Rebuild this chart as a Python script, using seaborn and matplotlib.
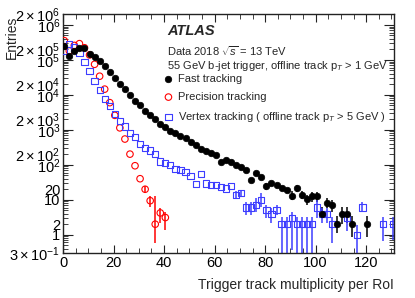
import numpy as np
import pandas as pd
import seaborn as sns
import matplotlib.pyplot as plt
from matplotlib.ticker import FixedLocator, FuncFormatter, MultipleLocator

# histogram bin centres (width 2)
bins = np.arange(0.5, 131, 2)
nan = np.nan

fast = [2.56e5, 1.32e5, 1.85e5, 2.15e5, 2.15e5, 1.45e5, 1.24e5, 9.6e4, 6.5e4, 4.5e4,
        3.0e4, 2.1e4, 1.45e4, 9.8e3, 6.9e3, 5.0e3, 3.5e3, 2.7e3, 2.06e3, 1.5e3,
        1.2e3, 955, 805, 687, 579, 463, 373, 285, 245, 220,
        193, 122, 139, 124, 100, 86, 69, 36, 60, 44,
        24, 30, 27, 21, 19, 13, 21, 14, 10.5, 12.4,
        12.4, 4, 8, 7, 2, 4, 4, 2, nan, nan,
        2, nan, nan, nan, nan, nan]

precision = [3.56e5, 1.81e5, 2.6e5, 2.92e5, 2.23e5, 1.39e5, 7.5e4, 3.42e4, 1.46e4, 6.0e3,
             2.6e3, 1.14e3, 546, 202, 94, 40, 20, 9.4, 2, 4.2,
             3.1] + [nan] * 45

vertex = [1.84e5, 2.92e5, 2.28e5, 1.62e5, 8.9e4, 4.9e4, 2.56e4, 1.39e4, 7.5e3, 4.75e3,
          2.87e3, 1.83e3, 1.24e3, 821, 611, 403, 300, 255, 200, 124,
          112, 100, 74, 72, 61, 49, 28, 54, 29, 27,
          26, 23, 21, 25, 14, 16, 6, 6, 7, 10,
          5, 4, 5, 2, 2, 3, 2, 2, 2, 2,
          6, 4, 4, 2, nan, nan, 3, nan, 1, 6,
          nan, nan, nan, 2, nan, 2]

# error bars (x, low end, high end)
fast_bar_x = [80.5, 90.5, 92.5, 94.5, 96.5, 98.5, 100.5, 102.5, 104.5, 106.5, 108.5, 110.5, 112.5, 114.5, 120.5]
fast_bar_lo = [19.3, 10, 16.2, 10.5, 7.2, 8.9, 8.9, 3, 5.8, 4.6, 1.1, 2.06, 2.2, 0.86, 0.86]
fast_bar_hi = [30, 17.3, 26.8, 17.3, 14, 16.2, 16.2, 6.2, 11.2, 10, 3.5, 6.2, 6.2, 3.5, 3.5]

prec_bar_x = [32.5, 34.5, 36.5, 38.5, 40.5]
prec_bar_lo = [16, 6.2, 0.58, 2.16, 1.33]
prec_bar_hi = [24, 12.4, 12.4, 5.8, 4.6]

vert_bar_x = [68.5, 70.5, 72.5, 74.5, 76.5, 78.5, 80.5, 82.5, 84.5, 86.5, 88.5, 90.5, 92.5, 94.5,
              96.5, 98.5, 100.5, 102.5, 104.5, 106.5, 112.5, 116.5, 118.5, 126.5, 130.5]
vert_bar_lo = [11.2, 13, 3.7, 3.7, 4.6, 6.4, 3, 2.2, 3.7, 0.2, 0.2, 0.37, 0.2, 0.2,
               0.2, 0.2, 3, 2.2, 2.2, 0.58, 1.24, 0.2, 4.6, 0.64, 0.7]
vert_bar_hi = [17.3, 19.5, 8.9, 8.9, 11.2, 15.5, 7.2, 5.8, 7.2, 3.3, 3.3, 4.6, 3.3, 3.3,
               3.3, 3.3, 10, 5.8, 5.8, 3.3, 4.6, 1.93, 8.4, 3.3, 3.3]

labels = ["Fast tracking", "Precision tracking",
          "Vertex tracking ( offline track p$_{T}$ > 5 GeV )"]
c_fast, c_prec, c_vert = "black", "#ff0000", "#3d3dff"

sns.set_style("ticks")
plt.rcParams["font.family"] = ["Liberation Sans", "DejaVu Sans"]
plt.rcParams["mathtext.fontset"] = "custom"
plt.rcParams["mathtext.rm"] = "Liberation Sans"
plt.rcParams["mathtext.it"] = "Liberation Sans:italic"
plt.rcParams["mathtext.bf"] = "Liberation Sans:bold"

df = pd.DataFrame({"mult": bins, "fast": fast, "prec": precision, "vert": vertex})

fig = plt.figure(figsize=(4.15, 2.98), dpi=100)
ax = fig.add_axes([63 / 415, 1 - 253 / 298, 331 / 415, 239 / 298])

ax.vlines(fast_bar_x, fast_bar_lo, fast_bar_hi, color=c_fast, lw=1.1, zorder=2)
ax.vlines(prec_bar_x, prec_bar_lo, prec_bar_hi, color=c_prec, lw=1.1, zorder=2)
ax.vlines(vert_bar_x, vert_bar_lo, vert_bar_hi, color=c_vert, lw=1.1, zorder=2)

d = df.dropna(subset=["fast"])
sns.scatterplot(x=d["mult"], y=d["fast"], ax=ax, marker="o", s=22, color=c_fast,
                edgecolor=c_fast, linewidth=0.5, label=labels[0], legend=False, zorder=4)
d = df.dropna(subset=["prec"])
sns.scatterplot(x=d["mult"], y=d["prec"], ax=ax, marker="o", s=22, facecolors="none",
                edgecolor=c_prec, linewidth=0.8, label=labels[1], legend=False, zorder=3)
d = df.dropna(subset=["vert"])
sns.scatterplot(x=d["mult"], y=d["vert"], ax=ax, marker="s", s=20, facecolors="none",
                edgecolor=c_vert, linewidth=0.8, label=labels[2], legend=False, zorder=3)

ax.set_yscale("log")
ax.set_xlim(0, 131)
ax.set_ylim(0.3, 2.06e6)
ax.set_xlabel("")
ax.set_ylabel("")

ax.xaxis.set_major_locator(MultipleLocator(20))
ax.xaxis.set_minor_locator(MultipleLocator(5))

dec = [10.0 ** e for e in range(0, 7)]
sub = [k * 10.0 ** e for e in range(-1, 7) for k in range(2, 10) if 0.3 <= k * 10.0 ** e <= 2.06e6]
ax.yaxis.set_major_locator(FixedLocator(dec))
ax.yaxis.set_minor_locator(FixedLocator(sub))


def ylab(v, pos):
    e = int(np.floor(np.log10(v) + 1e-9))
    m = int(round(v / 10.0 ** e))
    if m == 1:
        return {0: "1", 1: "10"}.get(e, r"$10^{%d}$" % e)
    if m == 2:
        return {0: "2", 1: "20"}.get(e, r"$2\times10^{%d}$" % e)
    if m == 3 and e == -1:
        return r"$3\times10^{-1}$"
    return ""


ax.yaxis.set_major_formatter(FuncFormatter(ylab))
ax.yaxis.set_minor_formatter(FuncFormatter(ylab))

ax.tick_params(which="both", direction="in", top=True, right=True, labelsize=10.5,
               colors="#222222", labelcolor="black")
ax.tick_params(axis="x", which="major", length=6, pad=2)
ax.tick_params(axis="x", which="minor", length=3.5)
ax.tick_params(axis="y", which="major", length=7, pad=2)
ax.tick_params(axis="y", which="minor", length=3.5, pad=2)
for s in ax.spines.values():
    s.set_linewidth(1.0)
    s.set_color("#222222")

fig.text(394 / 415, 1 - 285 / 298, "Trigger track multiplicity per RoI", ha="right",
         va="center", fontsize=10)
fig.text(12 / 415, 1 - 16 / 298, "Entries", rotation=90, ha="center", va="top", fontsize=10)

fig.text(167 / 415, 1 - 31 / 298, "ATLAS", fontsize=10.5, fontweight="bold",
         fontstyle="italic", ha="left", va="center")
fig.text(167 / 415, 1 - 51 / 298, r"Data 2018 $\sqrt{s}$ = 13 TeV", fontsize=8,
         ha="left", va="center")
fig.text(167 / 415, 1 - 66 / 298, "55 GeV b-jet trigger, offline track p$_{T}$ > 1 GeV",
         fontsize=8, ha="left", va="center")

ax.legend(loc="upper left", bbox_to_anchor=(164 / 415, 1 - 74 / 298),
          bbox_transform=fig.transFigure, frameon=False, fontsize=8, borderpad=0,
          handlelength=0.8, handletextpad=0.5, labelspacing=0.72, scatterpoints=1,
          borderaxespad=0)

fig.savefig("out.png", dpi=100)
